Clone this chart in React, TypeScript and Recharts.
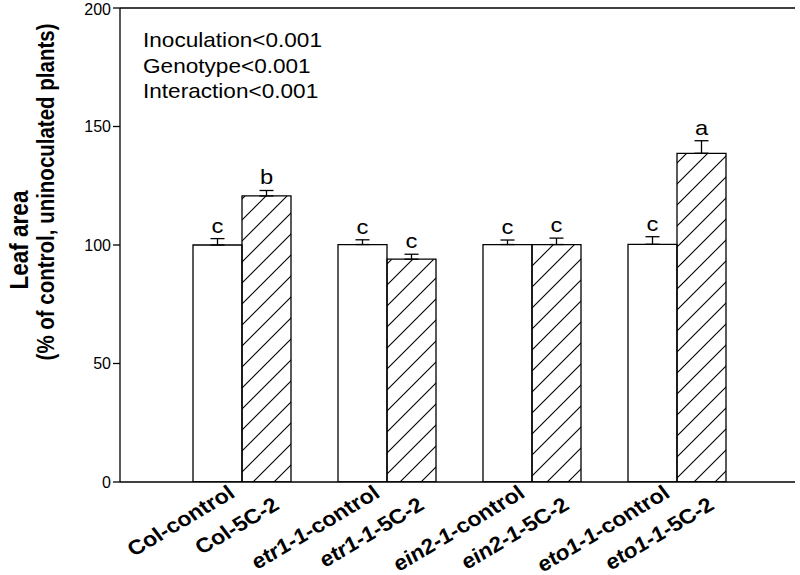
import React from 'react';
import { BarChart, Bar, XAxis, YAxis, ErrorBar, LabelList, ReferenceLine, Customized } from 'recharts';

const groups = ['Col', 'etr1-1', 'ein2-1', 'eto1-1'];
const genotypeItalic = [false, true, true, true];
const controlMeans = [100, 100.2, 100.2, 100.3];
const inocMeans = [120.7, 94.0, 100.2, 138.7];
const controlErr = [2.7, 2.0, 1.9, 3.2];
const inocErr = [2.3, 2.1, 2.7, 5.3];
const controlLetters = ['c', 'c', 'c', 'c'];
const inocLetters = ['b', 'c', 'c', 'a'];
const controlSuffix = '-control';
const inocSuffix = '-5C-2';
const yTicks = [0, 50, 100, 150, 200];
const statLines = ['Inoculation<0.001', 'Genotype<0.001', 'Interaction<0.001'];
const yTitle1 = 'Leaf area';
const yTitle2 = '(% of control, uninoculated plants)';

const data = groups.map((g, i) => ({
  group: g,
  control: controlMeans[i],
  inoc: inocMeans[i],
  controlErr: [0, controlErr[i]],
  inocErr: [0, inocErr[i]],
}));

const FONT = '"Liberation Sans", Arial, sans-serif';
const SX = 1.13;

const makeLetter = (errArr: number[], means: number[], letters: string[]) => (props: any) => {
  const { x, y, width, height, index } = props;
  const scale = height / means[index];
  const cx = x + width / 2;
  const yy = y - errArr[index] * scale - 6;
  return (
    <text
      transform={`translate(${cx} ${yy}) scale(${SX} 1)`}
      textAnchor="middle"
      fontFamily={FONT}
      fontSize={21}
      fill="#000"
    >
      {letters[index]}
    </text>
  );
};

const XTick = (props: any) => {
  const { x, payload } = props;
  const i = payload.index;
  const g = groups[i];
  const it = genotypeItalic[i];
  const c1 = x - 24.25;
  const c2 = x + 24.25;
  const lab = (cx: number, cy: number, suffix: string) => (
    <text
      textAnchor="end"
      fontFamily={FONT}
      fontWeight="bold"
      fontSize={20.5}
      fill="#000"
      transform={`translate(${cx} ${cy}) scale(${SX} 1) rotate(-34)`}
    >
      <tspan fontStyle={it ? 'italic' : 'normal'}>{g}</tspan>
      <tspan>{suffix}</tspan>
    </text>
  );
  return (
    <g>
      {lab(c1 + 19, 496, controlSuffix)}
      {lab(c2 + 15, 508, inocSuffix)}
    </g>
  );
};

const Stats = () => (
  <g>
    {statLines.map((s, i) => (
      <text
        key={s}
        transform={`translate(143 ${47 + i * 25.7}) scale(${SX} 1)`}
        fontFamily={FONT}
        fontSize={20}
        fill="#000"
      >
        {s}
      </text>
    ))}
  </g>
);

const YTitle = () => (
  <g>
    <text
      transform={`translate(28 240) scale(${SX} 1) rotate(-90)`}
      textAnchor="middle"
      fontFamily={FONT}
      fontWeight="bold"
      fontSize={22.5}
      fill="#000"
    >
      {yTitle1}
    </text>
    <text
      transform={`translate(54 192) scale(${SX} 1) rotate(-90)`}
      textAnchor="middle"
      fontFamily={FONT}
      fontWeight="bold"
      fontSize={20.5}
      fill="#000"
    >
      {yTitle2}
    </text>
  </g>
);

export default function App() {
  return (
    <div style={{ position: 'absolute', left: 0, top: 0, width: 800, height: 575, background: '#fff' }}>
      <BarChart
        width={800}
        height={575}
        data={data}
        margin={{ top: 8, right: 5, bottom: 63, left: 60 }}
        barCategoryGap={24}
        barGap={0}
      >
        <defs>
          <pattern id="hatch" patternUnits="userSpaceOnUse" width={21} height={21}>
            <path d="M0,21 L21,0 M-6,6 L6,-6 M15,27 L27,15" stroke="#000" strokeWidth={1.1} />
          </pattern>
        </defs>
        <XAxis
          dataKey="group"
          height={30}
          padding={{ left: 49, right: 46 }}
          axisLine={{ stroke: '#000', strokeWidth: 1.3 }}
          tickLine={false}
          tick={<XTick />}
          interval={0}
        />
        <YAxis
          width={60}
          domain={[0, 200]}
          ticks={yTicks}
          allowDataOverflow
          tickSize={7}
          tickMargin={2}
          axisLine={{ stroke: '#000', strokeWidth: 1.3 }}
          tickLine={{ stroke: '#000', strokeWidth: 1.3 }}
          tick={{ fontFamily: FONT, fontSize: 16, fill: '#000' }}
        />
        <YAxis
          yAxisId="right"
          orientation="right"
          width={0}
          domain={[0, 200]}
          tick={false}
          tickLine={false}
          axisLine={{ stroke: '#000', strokeWidth: 1.3 }}
        />
        <ReferenceLine y={200} stroke="#000" strokeWidth={1.3} ifOverflow="visible" />
        <Bar dataKey="control" fill="#fff" stroke="#000" strokeWidth={1.3} isAnimationActive={false}>
          <ErrorBar dataKey="controlErr" width={7} stroke="#000" strokeWidth={1.3} direction="y" />
          <LabelList dataKey="control" content={makeLetter(controlErr, controlMeans, controlLetters)} />
        </Bar>
        <Bar dataKey="inoc" fill="url(#hatch)" stroke="#000" strokeWidth={1.3} isAnimationActive={false}>
          <ErrorBar dataKey="inocErr" width={7} stroke="#000" strokeWidth={1.3} direction="y" />
          <LabelList dataKey="inoc" content={makeLetter(inocErr, inocMeans, inocLetters)} />
        </Bar>
        <Customized component={Stats} />
        <Customized component={YTitle} />
      </BarChart>
    </div>
  );
}
